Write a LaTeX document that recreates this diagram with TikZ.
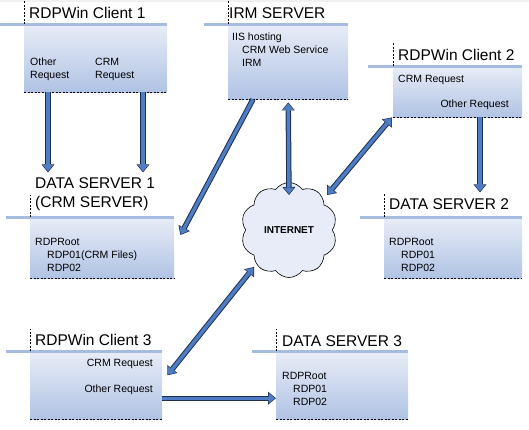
\documentclass[tikz,border=0pt]{standalone}
\usepackage{fontspec}
\setmainfont{Liberation Sans}
\usetikzlibrary{arrows.meta,shapes.symbols}

\definecolor{paneltop}{RGB}{232,237,247}
\definecolor{panelbottom}{RGB}{176,195,228}
\definecolor{headblue}{RGB}{166,187,224}
\definecolor{arrowblue}{RGB}{79,125,196}
\definecolor{arrowedge}{RGB}{28,45,80}
\definecolor{cloudfill}{RGB}{232,236,248}

\tikzset{
  panel/.style={rectangle, anchor=north west, inner sep=0pt, top color=paneltop, bottom color=panelbottom},
  headline/.style={draw=headblue, line width=3pt},
  tick/.style={draw=black, line width=0.6pt, dash pattern=on 2pt off 1.5pt},
  title/.style={anchor=base west, inner sep=0pt, align=left, font=\fontsize{15.5}{19}\selectfont},
  note/.style={inner sep=0pt, align=left, font=\fontsize{10.5}{13}\selectfont},
  flow/.style={draw=arrowblue, line width=3.4pt, shorten >=1pt,
    -{Triangle[length=6.4pt,width=10.4pt,line width=0pt]},
    preaction={draw=arrowedge, line width=5.4pt, shorten >=0pt,
      -{Triangle[length=8pt,width=13pt,line width=0pt]}}},
  flows/.style={draw=arrowblue, line width=3.4pt, shorten >=1pt, shorten <=1pt,
    {Triangle[length=6.4pt,width=10.4pt,line width=0pt]}-{Triangle[length=6.4pt,width=10.4pt,line width=0pt]},
    preaction={draw=arrowedge, line width=5.4pt, shorten >=0pt, shorten <=0pt,
      {Triangle[length=8pt,width=13pt,line width=0pt]}-{Triangle[length=8pt,width=13pt,line width=0pt]}}}
}

\begin{document}
\begin{tikzpicture}[x=1pt,y=-1pt]
  \useasboundingbox (0,0) rectangle (529,429);
  \fill[gray!12] (0,0) rectangle (529,2);

  % Panels (top row, middle row, bottom row)
  \node[panel, minimum width=143pt, minimum height=68pt] (c1) at (24,24) {};
  \node[panel, minimum width=120pt, minimum height=75pt] (irm) at (228,24) {};
  \node[panel, minimum width=129pt, minimum height=51pt] (c2) at (393,66) {};

  \node[panel, minimum width=144pt, minimum height=61pt] (ds1) at (30,217) {};
  \node[panel, minimum width=138pt, minimum height=61pt] (ds2) at (384,217) {};

  \node[panel, minimum width=132pt, minimum height=68pt] (c3) at (30,351) {};
  \node[panel, minimum width=132pt, minimum height=68pt] (ds3) at (276,351) {};

  % Header lines, title ticks and dashed bottoms
  \draw[headline] ([xshift=-24pt]c1.north west) -- (c1.north east);
  \draw[headline] ([xshift=-24pt]irm.north west) -- (irm.north east);
  \draw[headline] ([xshift=-25pt]c2.north west) -- (c2.north east);
  \draw[headline] ([xshift=-24pt]ds1.north west) -- (ds1.north east);
  \draw[headline] ([xshift=-24pt]ds2.north west) -- (ds2.north east);
  \draw[headline] ([xshift=-24pt]c3.north west) -- (c3.north east);
  \draw[headline] ([xshift=-24pt]ds3.north west) -- (ds3.north east);

  \draw[tick] (c1.north west) -- ++(0,-24);
  \draw[tick] (irm.north west) -- ++(0,-24);
  \draw[tick] (c2.north west) -- ++(0,-23);
  \draw[tick] (ds1.north west) -- ++(0,-22);
  \draw[tick] (ds2.north west) -- ++(0,-24);
  \draw[tick] (c3.north west) -- ++(0,-22);
  \draw[tick] (ds3.north west) -- ++(0,-22);

  \draw[tick] (c1.south west) -- (c1.south east);
  \draw[tick] (irm.south west) -- (irm.south east);
  \draw[tick] (c2.south west) -- (c2.south east);
  \draw[tick] (ds1.south west) -- (ds1.south east);
  \draw[tick] (ds2.south west) -- (ds2.south east);
  \draw[tick] (c3.south west) -- (c3.south east);
  \draw[tick] (ds3.south west) -- (ds3.south east);

  % Titles
  \node[title] (c1t) at ([shift={(5,-6)}]c1.north west) {RDPWin Client 1};
  \node[title] (irmt) at ([shift={(1,-6)}]irm.north west) {IRM SERVER};
  \node[title] (c2t) at ([shift={(5,-6)}]c2.north west) {RDPWin Client 2};
  \node[title] (ds1t) at ([shift={(5,-10)}]ds1.north west) {DATA SERVER 1\\(CRM SERVER)};
  \node[title] (ds2t) at ([shift={(5,-8)}]ds2.north west) {DATA SERVER 2};
  \node[title] (c3t) at ([shift={(5,-6)}]c3.north west) {RDPWin Client 3};
  \node[title] (ds3t) at ([shift={(6,-5)}]ds3.north west) {DATA SERVER 3};

  % Panel texts
  \node[note, anchor=west] (c1a) at (30,69.5) {Other\\Request};
  \node[note, anchor=west] (c1b) at (95,69.5) {CRM\\Request};
  \node[note, anchor=west] (irma) at (232,49.5) {IIS hosting\\\hspace*{10pt}CRM Web Service\\\hspace*{10pt}IRM};
  \node[note, anchor=west] (c2a) at (398,80) {CRM Request};
  \node[note, anchor=east] (c2b) at (509,105) {Other Request};
  \node[note, anchor=west] (ds1a) at (35,255) {RDPRoot\\\hspace*{12pt}RDP01(CRM Files)\\\hspace*{12pt}RDP02};
  \node[note, anchor=west] (ds2a) at (389,254.5) {RDPRoot\\\hspace*{12pt}RDP01\\\hspace*{12pt}RDP02};
  \node[note, anchor=east] (c3a) at (153,364) {CRM Request};
  \node[note, anchor=east] (c3b) at (153,390) {Other Request};
  \node[note, anchor=west] (ds3a) at (282,389) {RDPRoot\\\hspace*{11pt}RDP01\\\hspace*{11pt}RDP02};

  % Internet cloud
  \node[cloud, cloud puffs=10, cloud puff arc=110, aspect=1, draw=black, line width=0.6pt,
    fill=cloudfill, minimum width=96pt, minimum height=95pt, inner sep=0pt,
    font=\bfseries\fontsize{10}{12}\selectfont] (net) at (289,230) {INTERNET};

  % Arrows
  \draw[flow] ([xshift=24pt]c1.south west) -- ([xshift=24pt,yshift=-80pt]c1.south west);
  \draw[flow] ([xshift=119pt]c1.south west) -- ([xshift=119pt,yshift=-80pt]c1.south west);
  \draw[flow] ([xshift=25pt]irm.south west) -- ([xshift=6pt,yshift=-18pt]ds1.north east);
  \draw[flows] ([yshift=-3pt]irm.south) -- ([yshift=35pt]net.center);
  \draw[flows] ([xshift=-1pt]c2.south west) -- ([xshift=38pt,yshift=35pt]net.center);
  \draw[flow] ([xshift=87pt]c2.south west) -- ([xshift=87pt,yshift=-75pt]c2.south west);
  \draw[flows] ([xshift=5pt,yshift=10pt]c3.east) -- ([xshift=-35pt,yshift=-37pt]net.center);
  \draw[flow] ([yshift=-13pt]c3.east) -- ([yshift=-13pt]ds3.west);
\end{tikzpicture}
\end{document}
